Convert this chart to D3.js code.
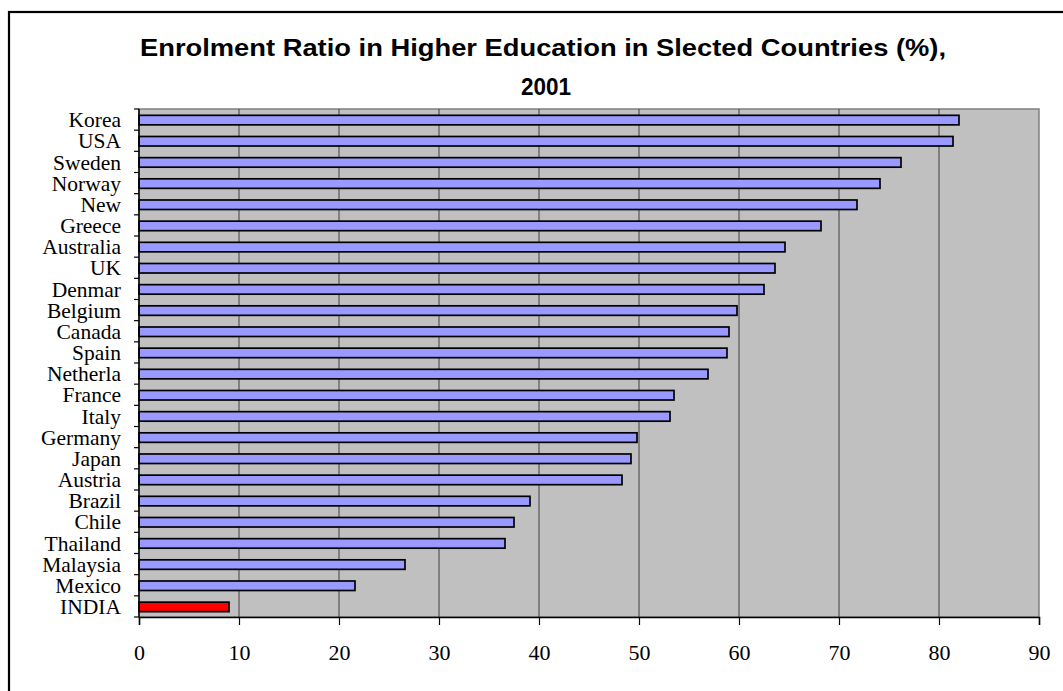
<!DOCTYPE html>
<html>
<head>
<meta charset="utf-8">
<script src="https://cdn.jsdelivr.net/npm/d3@7/dist/d3.min.js"></script>
<style>
  html, body { margin: 0; padding: 0; background: #fff; }
  svg { display: block; }
</style>
</head>
<body>
<svg id="chart" width="1063" height="691"></svg>
<script>
const countries = ["Korea","USA","Sweden","Norway","New","Greece","Australia","UK","Denmar","Belgium","Canada","Spain","Netherla","France","Italy","Germany","Japan","Austria","Brazil","Chile","Thailand","Malaysia","Mexico","INDIA"];
const values = [82.0,81.4,76.2,74.1,71.8,68.2,64.6,63.6,62.5,59.8,59.0,58.8,56.9,53.5,53.1,49.8,49.2,48.3,39.1,37.5,36.6,26.6,21.6,9.0];
const xTicks = [0,10,20,30,40,50,60,70,80,90];
const titleLines = ["Enrolment Ratio in Higher Education in Slected Countries (%),", "2001"];
const highlight = "INDIA";

const svg = d3.select("#chart");
const plot = {left: 139, right: 1039, top: 109, bottom: 617};

// outer frame
svg.append("rect").attr("x", 9).attr("y", 12).attr("width", 1200).attr("height", 1000)
  .attr("fill", "none").attr("stroke", "#000").attr("stroke-width", 2.2);

// title
const title = svg.append("text").attr("text-anchor", "middle")
  .attr("font-family", "Liberation Sans, Arial, sans-serif").attr("font-weight", "bold")
  .attr("font-size", 23).attr("fill", "#000");
title.append("tspan").attr("x", 543).attr("y", 56)
  .attr("textLength", 806).attr("lengthAdjust", "spacingAndGlyphs").text(titleLines[0]);
title.append("tspan").attr("x", 546).attr("y", 95)
  .attr("textLength", 50).attr("lengthAdjust", "spacingAndGlyphs").text(titleLines[1]);

const x = d3.scaleLinear().domain([0, 90]).range([plot.left, plot.right]);
const pin = 0.55;
const y = d3.scaleBand().domain(countries).range([plot.top, plot.bottom])
  .paddingInner(pin).paddingOuter(pin / 2);

// plot background
svg.append("rect").attr("x", plot.left).attr("y", plot.top)
  .attr("width", plot.right - plot.left).attr("height", plot.bottom - plot.top)
  .attr("fill", "#c0c0c0").attr("stroke", "#808080").attr("stroke-width", 1.5);

// gridlines
svg.append("g").selectAll("line").data(xTicks.filter(t => t > 0 && t < 90)).join("line")
  .attr("x1", d => x(d)).attr("x2", d => x(d))
  .attr("y1", plot.top).attr("y2", plot.bottom)
  .attr("stroke", "#404040").attr("stroke-width", 1);

// bars
svg.append("g").selectAll("rect").data(countries).join("rect")
  .attr("x", x(0))
  .attr("y", d => y(d) + 0.5)
  .attr("width", (d, i) => x(values[i]) - x(0))
  .attr("height", y.bandwidth())
  .attr("fill", d => d === highlight ? "#ff0000" : "#9999ff")
  .attr("stroke", "#000").attr("stroke-width", 1.7);

// x axis
const xAxis = d3.axisBottom(x).tickValues(xTicks).tickSize(8).tickPadding(19);
const gx = svg.append("g").attr("transform", `translate(0,${plot.bottom})`).call(xAxis);
gx.select(".domain").attr("stroke", "#000").attr("stroke-width", 1.5);
gx.selectAll(".tick line").attr("stroke", "#000").attr("stroke-width", 1.2);
gx.selectAll(".tick text").attr("font-family", "Liberation Serif, Times New Roman, serif")
  .attr("font-size", 22).attr("fill", "#000");

// y axis line and ticks at band boundaries
svg.append("line").attr("x1", plot.left).attr("x2", plot.left)
  .attr("y1", plot.top).attr("y2", plot.bottom).attr("stroke", "#000").attr("stroke-width", 1.5);
const bounds = countries.map(c => y(c) - (y.step() - y.bandwidth()) / 2).concat([plot.bottom]);
svg.append("g").selectAll("line").data(bounds).join("line")
  .attr("x1", plot.left - 5).attr("x2", plot.left)
  .attr("y1", d => d).attr("y2", d => d)
  .attr("stroke", "#000").attr("stroke-width", 1.2);

// category labels
svg.append("g").selectAll("text").data(countries).join("text")
  .attr("x", 121)
  .attr("y", d => y(d) + y.bandwidth() / 2)
  .attr("dy", "0.36em")
  .attr("text-anchor", "end")
  .attr("font-family", "Liberation Serif, Times New Roman, serif")
  .attr("font-size", 21.5).attr("fill", "#000")
  .text(d => d);
</script>
</body>
</html>
